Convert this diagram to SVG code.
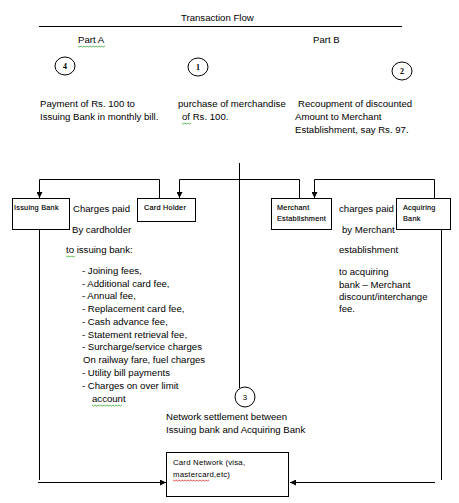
<svg xmlns="http://www.w3.org/2000/svg" width="459" height="503" viewBox="0 0 459 503">
<defs>
<marker id="arr" viewBox="0 0 6 6" refX="6" refY="3" markerWidth="6" markerHeight="6" orient="auto" markerUnits="userSpaceOnUse"><path d="M0,0 L6,3 L0,6 z" fill="#000"/></marker>
<style>
text{font-family:"Liberation Sans",Arial,sans-serif;font-size:9.6px;fill:#000}
.sm{font-size:7.3px;letter-spacing:0.25px;stroke:#000;stroke-width:0.15}
.cn{font-size:7.8px;letter-spacing:0.2px}
.num{font-family:"Liberation Serif","Times New Roman",serif;font-size:8px;font-weight:bold}
.box{fill:#fff;stroke:#000;stroke-width:1}
.ln{fill:none;stroke:#000;stroke-width:1}
.sq{fill:none;stroke-width:0.8}
</style>
</defs>
<rect width="459" height="503" fill="#fff"/>
<text x="181" y="21">Transaction Flow</text>
<line x1="39" y1="26.5" x2="402" y2="26.5" stroke="#000"/>
<text x="78" y="43">Part A</text>
<path class="sq" stroke="#3a3" d="M78,46 l1.5,1 1.5,-1 1.5,1 1.5,-1 1.5,1 1.5,-1 1.5,1 1.5,-1 1.5,1 1.5,-1 1.5,1 1.5,-1 1.5,1 1.5,-1 1.5,1 1.5,-1 1.5,1 1.5,-1"/>
<text x="313" y="43">Part B</text>
<g id="c4"><ellipse cx="65" cy="66" rx="10" ry="9" class="ln"/><text class="num" x="65" y="69" text-anchor="middle">4</text></g>
<g id="c1"><ellipse cx="198" cy="67" rx="10" ry="9" class="ln"/><text class="num" x="198" y="70" text-anchor="middle">1</text></g>
<g id="c2"><ellipse cx="402" cy="71" rx="10" ry="9" class="ln"/><text class="num" x="402" y="74" text-anchor="middle">2</text></g>
<text x="40" y="107">Payment of Rs. 100 to</text>
<text x="40" y="120">Issuing Bank in monthly bill.</text>
<text x="178" y="107">purchase of merchandise</text>
<text x="182" y="120">of Rs. 100.</text>
<path class="sq" stroke="#3a3" d="M182,123 l1.5,1 1.5,-1 1.5,1 1.5,-1 1.5,1 1.5,-1"/>
<text x="298" y="107">Recoupment of discounted</text>
<text x="295" y="120">Amount to Merchant</text>
<text x="295" y="133">Establishment, say Rs. 97.</text>
<g id="connectors">
<line class="ln" x1="239.5" y1="163" x2="239.5" y2="388"/>
<polyline class="ln" points="159.5,198 159.5,179.5 39.5,179.5 39.5,198" marker-end="url(#arr)"/>
<polyline class="ln" points="299.5,198 299.5,179.5 179.5,179.5 179.5,198" marker-end="url(#arr)"/>
<polyline class="ln" points="434.5,198 434.5,179.5 314.5,179.5 314.5,198" marker-end="url(#arr)"/>
<line class="ln" x1="39.5" y1="229" x2="39.5" y2="480"/>
<line class="ln" x1="38" y1="482.5" x2="166" y2="482.5" marker-end="url(#arr)"/>
<line class="ln" x1="441.5" y1="229" x2="441.5" y2="480"/>
<line class="ln" x1="435" y1="482.5" x2="290" y2="482.5" marker-end="url(#arr)"/>
</g>
<g id="issuing-bank"><rect class="box" x="12.5" y="198.5" width="57" height="31"/><text class="sm" x="14" y="210">Issuing Bank</text></g>
<g id="card-holder"><rect class="box" x="137.5" y="198.5" width="58" height="23"/><text class="sm" x="144" y="210">Card Holder</text></g>
<g id="merchant"><rect class="box" x="271.5" y="198.5" width="60" height="31"/><text class="sm" x="277" y="210">Merchant</text><text class="sm" x="277" y="221">Establishment</text></g>
<g id="acquiring-bank"><rect class="box" x="396.5" y="198.5" width="54" height="31"/><text class="sm" x="403" y="210">Acquiring</text><text class="sm" x="403" y="221">Bank</text></g>
<text x="73" y="212">Charges paid</text>
<text x="72" y="233">By cardholder</text>
<text x="66" y="253">to issuing bank:</text>
<path class="sq" stroke="#3a3" d="M66,256 l1.5,1 1.5,-1 1.5,1 1.5,-1 1.5,1 1.5,-1"/>
<g id="list">
<text x="82" y="274">-  Joining fees,</text>
<text x="82" y="287">-  Additional card fee,</text>
<text x="82" y="299">-  Annual fee,</text>
<text x="82" y="312">-  Replacement card fee,</text>
<text x="82" y="325">-  Cash advance fee,</text>
<text x="82" y="338">-  Statement retrieval fee,</text>
<text x="82" y="350">-  Surcharge/service charges</text>
<text x="83" y="363">On railway fare, fuel charges</text>
<text x="82" y="376">-  Utility bill payments</text>
<text x="82" y="389">-  Charges on over limit</text>
<text x="92" y="402">account</text>
<path class="sq" stroke="#3a3" d="M92,405 l1.5,1 1.5,-1 1.5,1 1.5,-1 1.5,1 1.5,-1 1.5,1 1.5,-1 1.5,1 1.5,-1 1.5,1 1.5,-1 1.5,1 1.5,-1 1.5,1 1.5,-1 1.5,1 1.5,-1 1.5,1 1.5,-1"/>
</g>
<text x="339" y="212">charges paid</text>
<text x="342" y="233">by Merchant</text>
<text x="339" y="253">establishment</text>
<text x="339" y="275">to acquiring</text>
<text x="339" y="288">bank – Merchant</text>
<text x="339" y="300">discount/interchange</text>
<text x="339" y="312">fee.</text>
<g id="c3"><ellipse cx="245" cy="397" rx="10" ry="10" class="ln"/><text class="cn" x="245" y="400" text-anchor="middle">3</text></g>
<text x="166" y="420">Network settlement between</text>
<text x="166" y="433">Issuing bank and Acquiring Bank</text>
<g id="card-network"><rect class="box" x="166.5" y="452.5" width="122" height="44"/><text class="cn" x="173" y="465">Card Network (visa,</text><text class="cn" x="173" y="477">mastercard,etc)</text>
<path class="sq" stroke="#d33" d="M173,480 l1.5,1 1.5,-1 1.5,1 1.5,-1 1.5,1 1.5,-1 1.5,1 1.5,-1 1.5,1 1.5,-1 1.5,1 1.5,-1 1.5,1 1.5,-1 1.5,1 1.5,-1 1.5,1 1.5,-1 1.5,1 1.5,-1 1.5,1 1.5,-1 1.5,1 1.5,-1"/></g>
</svg>
